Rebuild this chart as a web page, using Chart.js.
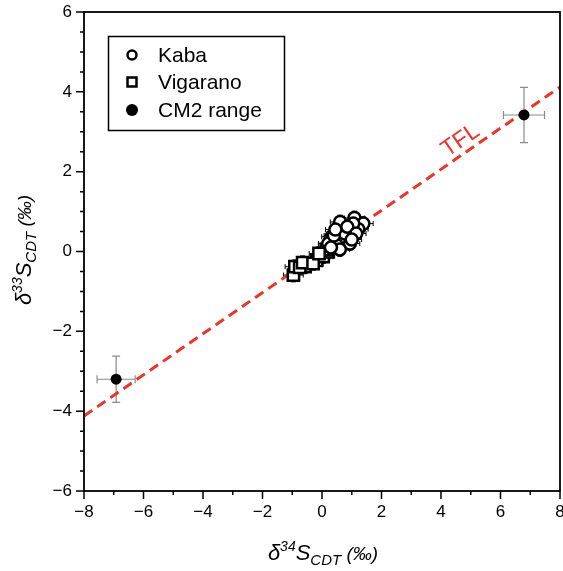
<!DOCTYPE html>
<html>
<head>
<meta charset="utf-8">
<script src="https://cdn.jsdelivr.net/npm/chart.js"></script>
<style>
  html, body { margin: 0; padding: 0; background: #fff; overflow: hidden; }
  #wrap { width: 563px; height: 571px; }
</style>
</head>
<body>
<div id="wrap"><canvas id="myChart"></canvas></div>
<script>
// data
const kabaX = [0.61, 1.09, 1.39, 0.94, 1.22, 0.55, 0.32, 0.72, 0.94, 0.49, 0.21, 0.77, 1.05, 0.40, 0.85, 1.15, 0.60, 0.45, 1.00, 0.30];
const kabaY = [0.74, 0.84, 0.70, 0.59, 0.56, 0.49, 0.37, 0.33, 0.20, 0.16, 0.20, 0.45, 0.70, 0.40, 0.62, 0.45, 0.05, 0.55, 0.30, 0.10];
const vigX = [-0.96, -0.91, -0.57, -0.18, 0.04, 0.21, 0.27, -0.75, -0.65, -0.30, 0.15, -0.10];
const vigY = [-0.59, -0.38, -0.38, -0.22, -0.13, -0.01, 0.16, -0.40, -0.28, -0.30, 0.05, -0.05];
const cm2X = [-6.92, 6.79];
const cm2Y = [-3.20, 3.42];
const cm2ErrX = [0.64, 0.69];
const cm2ErrY = [0.58, 0.69];
const pointErrX = 0.33;
const pointErrY = 0.17;
const tflX = [-8, 8];
const tflY = [-4.12, 4.12];
const xTicksLabelled = [-8, -6, -4, -2, 0, 2, 4, 6, 8];
const yTicksLabelled = [-6, -4, -2, 0, 2, 4, 6];

const FONT = "'Liberation Sans', Arial, sans-serif";
const RED = 'rgb(236, 52, 40)';

function pts(xs, ys) {
  return xs.map((x, i) => ({x: x, y: ys[i]}));
}
function minus(v) {
  return String(v).replace('-', '\u2212');
}

// error bars, drawn under the markers
const errorBars = {
  id: 'errorBars',
  beforeDatasetsDraw(chart) {
    const ctx = chart.ctx;
    const xs = chart.scales.x, ys = chart.scales.y;
    chart.data.datasets.forEach(ds => {
      if (!ds.errX) return;
      ctx.save();
      ctx.strokeStyle = ds.errColor;
      ctx.lineWidth = ds.errWidth;
      ds.data.forEach((p, i) => {
        const ex = Array.isArray(ds.errX) ? ds.errX[i] : ds.errX;
        const ey = Array.isArray(ds.errY) ? ds.errY[i] : ds.errY;
        const px = xs.getPixelForValue(p.x), py = ys.getPixelForValue(p.y);
        const x0 = xs.getPixelForValue(p.x - ex), x1 = xs.getPixelForValue(p.x + ex);
        const y0 = ys.getPixelForValue(p.y - ey), y1 = ys.getPixelForValue(p.y + ey);
        const c = ds.capSize;
        ctx.beginPath();
        ctx.moveTo(x0, py); ctx.lineTo(x1, py);
        ctx.moveTo(px, y0); ctx.lineTo(px, y1);
        ctx.moveTo(x0, py - c); ctx.lineTo(x0, py + c);
        ctx.moveTo(x1, py - c); ctx.lineTo(x1, py + c);
        ctx.moveTo(px - c, y0); ctx.lineTo(px + c, y0);
        ctx.moveTo(px - c, y1); ctx.lineTo(px + c, y1);
        ctx.stroke();
      });
      ctx.restore();
    });
  }
};

// draw a label with super/subscripts
function richText(ctx, x, y, parts) {
  let w = 0;
  parts.forEach(p => { ctx.font = p.f; w += ctx.measureText(p.t).width; });
  let cx = x - w / 2;
  parts.forEach(p => {
    ctx.font = p.f;
    ctx.fillText(p.t, cx, y + (p.dy || 0));
    cx += ctx.measureText(p.t).width;
  });
}
function titleParts(num) {
  return [
    {t: '\u03b4', f: 'italic 22px ' + FONT},
    {t: num, f: 'italic 14px ' + FONT, dy: -9},
    {t: 'S', f: 'italic 22px ' + FONT},
    {t: 'CDT', f: 'italic 15px ' + FONT, dy: 5},
    {t: ' (\u2030)', f: 'italic 19px ' + FONT}
  ];
}

const decorations = {
  id: 'decorations',
  afterDraw(chart) {
    const ctx = chart.ctx;
    const a = chart.chartArea;
    const xs = chart.scales.x, ys = chart.scales.y;
    ctx.save();
    // frame
    ctx.strokeStyle = '#000';
    ctx.lineWidth = 1.8;
    ctx.strokeRect(a.left, a.top, a.right - a.left, a.bottom - a.top);
    // ticks
    ctx.lineWidth = 1.5;
    ctx.beginPath();
    xs.ticks.forEach(t => {
      const px = xs.getPixelForValue(t.value);
      const len = xTicksLabelled.includes(t.value) ? 8 : 4;
      ctx.moveTo(px, a.bottom); ctx.lineTo(px, a.bottom + len);
    });
    ys.ticks.forEach(t => {
      const py = ys.getPixelForValue(t.value);
      const len = yTicksLabelled.includes(t.value) ? 8 : 4;
      ctx.moveTo(a.left, py); ctx.lineTo(a.left - len, py);
    });
    ctx.stroke();

    // last x label, drawn here so it can run off the page edge
    ctx.fillStyle = '#000';
    ctx.font = '17px ' + FONT;
    ctx.textAlign = 'center';
    ctx.textBaseline = 'middle';
    const lastX = xTicksLabelled[xTicksLabelled.length - 1];
    ctx.fillText(minus(lastX), xs.getPixelForValue(lastX), a.bottom + 21);

    // axis titles
    ctx.textBaseline = 'alphabetic';
    ctx.textAlign = 'left';
    richText(ctx, 323, 560, titleParts('34'));
    ctx.save();
    ctx.translate(31, 250);
    ctx.rotate(-Math.PI / 2);
    richText(ctx, 0, 0, titleParts('33'));
    ctx.restore();

    // TFL label
    ctx.save();
    const lx = xs.getPixelForValue(4.66), ly = ys.getPixelForValue(2.78);
    const ang = Math.atan2(ys.getPixelForValue(tflY[1]) - ys.getPixelForValue(tflY[0]),
                           xs.getPixelForValue(tflX[1]) - xs.getPixelForValue(tflX[0]));
    ctx.translate(lx, ly);
    ctx.rotate(ang);
    ctx.fillStyle = RED;
    ctx.font = '23px ' + FONT;
    ctx.textAlign = 'center';
    ctx.textBaseline = 'middle';
    ctx.fillText('TFL', 0, 0);
    ctx.restore();

    // legend
    ctx.lineWidth = 1.5;
    ctx.strokeStyle = '#000';
    ctx.strokeRect(108.5, 36.5, 176, 94);
    const rows = [55, 82, 110];
    ctx.font = '21px ' + FONT;
    ctx.textAlign = 'left';
    ctx.textBaseline = 'middle';
    chart.data.datasets.slice(0, 3).forEach((ds, i) => {
      const y = rows[i];
      ctx.lineWidth = 2.5;
      ctx.fillStyle = ds.backgroundColor;
      ctx.beginPath();
      if (ds.pointStyle === 'rect') {
        ctx.rect(127.5, y - 4.5, 9, 9);
      } else {
        ctx.arc(132, y, i === 2 ? 6 : 4.5, 0, Math.PI * 2);
      }
      ctx.fill();
      if (i < 2) ctx.stroke();
      ctx.fillStyle = '#000';
      ctx.fillText(ds.label, 158, y + 1);
    });
    ctx.restore();
  }
};

new Chart(document.getElementById('myChart'), {
  type: 'scatter',
  data: {
    datasets: [{
      label: 'Kaba',
      data: pts(kabaX, kabaY),
      pointStyle: 'circle',
      pointRadius: 6,
      borderWidth: 2.5,
      borderColor: '#000',
      backgroundColor: '#fff',
      errX: pointErrX, errY: pointErrY, errColor: '#000', errWidth: 1, capSize: 2.5
    }, {
      label: 'Vigarano',
      data: pts(vigX, vigY),
      pointStyle: 'rect',
      pointRadius: 8,
      borderWidth: 2.5,
      borderColor: '#000',
      backgroundColor: '#fff',
      errX: pointErrX, errY: pointErrY, errColor: '#000', errWidth: 1, capSize: 2.5
    }, {
      label: 'CM2 range',
      data: pts(cm2X, cm2Y),
      pointStyle: 'circle',
      pointRadius: 5.5,
      borderWidth: 0,
      backgroundColor: '#000',
      errX: cm2ErrX, errY: cm2ErrY, errColor: '#8a8a8a', errWidth: 1.2, capSize: 4
    }, {
      type: 'line',
      label: 'TFL',
      data: pts(tflX, tflY),
      borderColor: RED,
      borderWidth: 3,
      borderDash: [10, 6],
      pointRadius: 0,
      fill: false
    }]
  },
  plugins: [errorBars, decorations],
  options: {
    responsive: true,
    maintainAspectRatio: false,
    animation: false,
    layout: { autoPadding: false, padding: { left: 0, right: 3, top: 12, bottom: 0 } },
    plugins: {
      legend: { display: false },
      tooltip: { enabled: false }
    },
    scales: {
      x: {
        type: 'linear',
        min: -8, max: 8,
        grid: { display: false, drawTicks: false },
        border: { display: false },
        afterFit: s => { s.height = 80; s.paddingLeft = 0; s.paddingRight = 0; },
        ticks: {
          stepSize: 1,
          padding: 11,
          color: '#000',
          font: { family: FONT, size: 17 },
          maxRotation: 0,
          autoSkip: false,
          // the last label is drawn by the plugin
          callback: v => (xTicksLabelled.includes(v) && v !== 8) ? minus(v) : ''
        }
      },
      y: {
        type: 'linear',
        min: -6, max: 6,
        grid: { display: false, drawTicks: false },
        border: { display: false },
        afterFit: s => { s.width = 84; s.paddingTop = 0; s.paddingBottom = 0; },
        ticks: {
          stepSize: 0.5,
          padding: 12,
          color: '#000',
          font: { family: FONT, size: 17 },
          autoSkip: false,
          callback: v => yTicksLabelled.includes(v) ? minus(v) : ''
        }
      }
    }
  }
});
</script>
</body>
</html>
